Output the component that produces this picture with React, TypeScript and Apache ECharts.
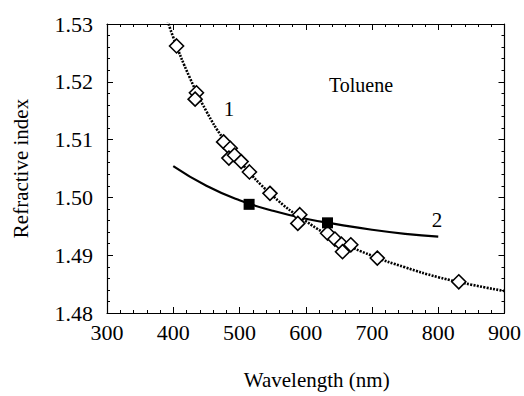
import React, { useEffect, useRef } from "react";
import * as echarts from "echarts";

// Measured refractive index of toluene (open diamonds)
const measWavelength = [405, 435, 433, 476, 486, 484, 492.5, 502.5, 515, 546, 591, 588, 633, 644, 654, 655.5, 668, 708, 831];
const measIndex = [1.5262, 1.5181, 1.517, 1.5096, 1.5085, 1.5068, 1.5073, 1.5062, 1.5044, 1.5007, 1.497, 1.4955, 1.4938, 1.4928, 1.4919, 1.4906, 1.4918, 1.4895, 1.4854];

// Curve 1 (dotted fit)
const fit1Wavelength = [390, 400, 425, 450, 475, 500, 550, 600, 650, 700, 750, 800, 850, 900];
const fit1Index = [1.5311, 1.5277, 1.5207, 1.5149, 1.5102, 1.5063, 1.5003, 1.4959, 1.4925, 1.4899, 1.4879, 1.4862, 1.4849, 1.4838];

// Curve 2 (solid)
const fit2Wavelength = [400, 450, 500, 550, 600, 650, 700, 750, 800];
const fit2Index = [1.5054, 1.502, 1.4995, 1.4977, 1.4963, 1.4953, 1.4944, 1.4937, 1.4932];

// Filled squares
const sqWavelength = [514.5, 632.8];
const sqIndex = [1.4988, 1.4956];

const xTicks = [300, 400, 500, 600, 700, 800, 900];
const yTicks = [1.48, 1.49, 1.5, 1.51, 1.52, 1.53];

const FONT = "Liberation Serif";

export default function App() {
  const ref = useRef<HTMLDivElement>(null);
  useEffect(() => {
    if (!ref.current) return;
    const chart = echarts.init(ref.current, undefined, { renderer: "svg" });
    const zip = (a: number[], b: number[]) => a.map((v, i) => [v, b[i]]);
    const axisCommon = {
      type: "value" as const,
      axisLine: { show: true, onZero: false, lineStyle: { color: "#000", width: 1.2 } },
      axisTick: { show: true, inside: true, length: 6, lineStyle: { color: "#000", width: 1 } },
      minorTick: { show: true, splitNumber: 5, length: 3, lineStyle: { color: "#000", width: 1 } },
      splitLine: { show: false },
    };
    chart.setOption({
      animation: false,
      textStyle: { fontFamily: FONT },
      grid: { left: 107, right: 18, top: 24, bottom: 83 },
      xAxis: [
        {
          ...axisCommon,
          min: xTicks[0],
          max: xTicks[xTicks.length - 1],
          interval: 100,
          position: "bottom",
          axisLabel: { color: "#000", fontFamily: FONT, fontSize: 22, margin: 8 },
          name: "Wavelength (nm)",
          nameLocation: "middle",
          nameGap: 56,
          nameTextStyle: { color: "#000", fontFamily: FONT, fontSize: 21, padding: [0, 0, 0, 22] },
        },
        {
          ...axisCommon,
          min: xTicks[0],
          max: xTicks[xTicks.length - 1],
          interval: 100,
          position: "top",
          axisLabel: { show: false },
        },
      ],
      yAxis: [
        {
          ...axisCommon,
          min: yTicks[0],
          max: yTicks[yTicks.length - 1],
          interval: 0.01,
          position: "left",
          axisLabel: {
            color: "#000",
            fontFamily: FONT,
            fontSize: 22,
            margin: 14,
            formatter: (v: number) => v.toFixed(2),
          },
          name: "Refractive index",
          nameLocation: "middle",
          nameGap: 76,
          nameTextStyle: { color: "#000", fontFamily: FONT, fontSize: 21 },
        },
        {
          ...axisCommon,
          min: yTicks[0],
          max: yTicks[yTicks.length - 1],
          interval: 0.01,
          position: "right",
          axisLabel: { show: false },
        },
      ],
      series: [
        {
          type: "line",
          data: zip(fit1Wavelength, fit1Index),
          smooth: true,
          symbol: "none",
          clip: true,
          lineStyle: { color: "#000", width: 2.6, type: [2, 1.3] },
          z: 2,
        },
        {
          type: "line",
          data: zip(fit2Wavelength, fit2Index),
          smooth: true,
          symbol: "none",
          clip: true,
          lineStyle: { color: "#000", width: 2.2, type: "solid" },
          z: 3,
        },
        {
          type: "scatter",
          data: zip(measWavelength, measIndex),
          symbol: "diamond",
          symbolSize: 14,
          itemStyle: { color: "#fff", borderColor: "#000", borderWidth: 1.6, opacity: 1 },
          z: 4,
        },
        {
          type: "scatter",
          data: zip(sqWavelength, sqIndex),
          symbol: "rect",
          symbolSize: 11,
          itemStyle: { color: "#000", borderColor: "#000", borderWidth: 0, opacity: 1 },
          z: 5,
        },
      ],
      graphic: [
        { type: "text", x: 361, y: 85, style: { text: "Toluene", fontFamily: FONT, fontSize: 20, fill: "#000", align: "center", verticalAlign: "middle" } },
        { type: "text", x: 229, y: 109, style: { text: "1", fontFamily: FONT, fontSize: 21, fill: "#000", align: "center", verticalAlign: "middle" } },
        { type: "text", x: 437, y: 220, style: { text: "2", fontFamily: FONT, fontSize: 21, fill: "#000", align: "center", verticalAlign: "middle" } },
      ],
    });
    return () => chart.dispose();
  }, []);
  return <div ref={ref} style={{ width: 524, height: 396, position: "absolute", left: 0, top: 0 }} />;
}
